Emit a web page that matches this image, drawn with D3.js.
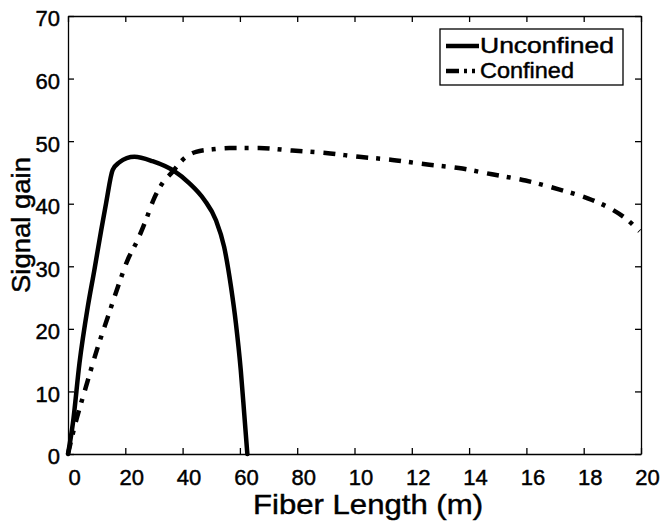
<!DOCTYPE html>
<html>
<head>
<meta charset="utf-8">
<script src="https://cdn.jsdelivr.net/npm/d3@7"></script>
<style>
  html, body { margin: 0; padding: 0; background: #fff; }
  svg { display: block; }
  text { font-family: "Liberation Sans", Arial, Helvetica, sans-serif; fill: #000; stroke: #000; stroke-width: 0.45px; }
</style>
</head>
<body>
<svg id="chart" width="669" height="521"></svg>
<script>
// ---- data ----
const unconfinedX = [0, 1.7, 4.0, 6.9, 9.2, 11.6, 13.3, 15.6, 17.9, 20.5, 23.2, 29.5, 37.1, 42.3, 47.6, 51.6, 54.5, 56.9, 58.6, 60.3, 61.5, 62.6];
const unconfinedY = [0, 4.9, 14.5, 23.5, 29.4, 35.8, 40.1, 45.4, 46.6, 47.3, 47.5, 46.8, 45.2, 43.3, 40.6, 37.4, 33.1, 26.7, 20.9, 13.4, 6.5, 0];

const confinedX = [0, 2.3, 6.3, 10.4, 13.9, 17.4, 20.8, 24.3, 27.2, 30.1, 33.0, 36.5, 40.0, 44.7, 50.5, 56.3, 66.7, 78.3, 90, 101.6, 113.2, 124.8, 136.4, 148, 159.7, 171.3, 182.9, 189.8, 194.5, 199.5];
const confinedY = [0, 4.4, 10.8, 17.1, 21.9, 26.7, 31.0, 34.2, 37.4, 40.9, 43.3, 45.1, 47.0, 48.3, 48.7, 48.9, 48.9, 48.5, 48.1, 47.5, 47.0, 46.3, 45.7, 44.7, 43.7, 42.3, 40.6, 39.1, 37.7, 35.6];

const xTickValues = [0, 20, 40, 60, 80, 100, 120, 140, 160, 180, 200];
const xTickLabels = ["0", "20", "40", "60", "80", "10", "12", "14", "16", "18", "20"];
const yTickValues = [0, 10, 20, 30, 40, 50, 60, 70];
const yTickLabels = ["0", "10", "20", "30", "40", "50", "60", "70"];

const seriesNames = ["Unconfined", "Confined"];
const xLabel = "Fiber Length (m)";
const yLabel = "Signal gain";

// ---- layout ----
const svg = d3.select("#chart");
const mLeft = 68, mRight = 641, mTop = 16, mBottom = 454;
const x = d3.scaleLinear().domain([0, 200]).range([mLeft, mRight]);
const y = d3.scaleLinear().domain([0, 70]).range([mBottom, mTop]);

const dashDot = "12,8,4,9";
const lw = 4.5;

// lines (clipped to plot area)
svg.append("clipPath").attr("id", "clip")
  .append("rect").attr("x", mLeft - 3).attr("y", mTop).attr("width", mRight - mLeft + 3).attr("height", mBottom - mTop + 3);

const line = d3.line().x(d => x(d[0])).y(d => y(d[1])).curve(d3.curveMonotoneX);

const g = svg.append("g").attr("clip-path", "url(#clip)");
g.append("path")
  .datum(unconfinedX.map((v, i) => [v, unconfinedY[i]]))
  .attr("d", line).attr("fill", "none").attr("stroke", "#000")
  .attr("stroke-width", lw).attr("stroke-linejoin", "round").attr("stroke-linecap", "round");
g.append("path")
  .datum(confinedX.map((v, i) => [v, confinedY[i]]))
  .attr("d", line).attr("fill", "none").attr("stroke", "#000")
  .attr("stroke-width", lw).attr("stroke-dasharray", dashDot);

// axes with inward ticks (MATLAB style box)
const tickLen = 6;
const axB = svg.append("g").attr("transform", `translate(0,${mBottom})`)
  .call(d3.axisBottom(x).tickValues(xTickValues).tickSizeInner(-tickLen).tickSizeOuter(0)
        .tickFormat((d, i) => xTickLabels[i]));
const axT = svg.append("g").attr("transform", `translate(0,${mTop})`)
  .call(d3.axisTop(x).tickValues(xTickValues).tickSizeInner(-tickLen).tickSizeOuter(0).tickFormat(""));
const axL = svg.append("g").attr("transform", `translate(${mLeft},0)`)
  .call(d3.axisLeft(y).tickValues(yTickValues).tickSizeInner(-tickLen).tickSizeOuter(0)
        .tickFormat((d, i) => yTickLabels[i]));
const axR = svg.append("g").attr("transform", `translate(${mRight},0)`)
  .call(d3.axisRight(y).tickValues(yTickValues).tickSizeInner(-tickLen).tickSizeOuter(0).tickFormat(""));

[axB, axT, axL, axR].forEach(a => {
  a.selectAll("path.domain").attr("stroke", "#000").attr("stroke-width", 1.3);
  a.selectAll(".tick line").attr("stroke", "#000").attr("stroke-width", 1.3);
});
axB.selectAll(".tick text")
  .attr("font-size", 22).attr("font-family", "Liberation Sans, Arial, sans-serif")
  .attr("dy", null).attr("y", 31).attr("dx", 6).attr("fill", "#000").attr("stroke", "#000");
axL.selectAll(".tick text")
  .attr("font-size", 22).attr("font-family", "Liberation Sans, Arial, sans-serif")
  .attr("x", -8).attr("dy", "0.45em").attr("fill", "#000").attr("stroke", "#000");

// axis labels
svg.append("text").attr("x", 253).attr("y", 514)
  .attr("font-size", 28).attr("textLength", 230).attr("lengthAdjust", "spacingAndGlyphs").text(xLabel);
svg.append("text").attr("transform", "translate(30,293) rotate(-90)")
  .attr("font-size", 26).attr("textLength", 136).attr("lengthAdjust", "spacingAndGlyphs").text(yLabel);

// legend
const lg = svg.append("g");
lg.append("rect").attr("x", 440).attr("y", 29).attr("width", 183).attr("height", 56)
  .attr("fill", "#fff").attr("stroke", "#000").attr("stroke-width", 1.3);
const rows = [{ name: seriesNames[0], dash: null, yy: 46 }, { name: seriesNames[1], dash: "13,5,3,5,3,6", yy: 71 }];
rows.forEach(r => {
  lg.append("line").attr("x1", 446).attr("x2", 479).attr("y1", r.yy).attr("y2", r.yy)
    .attr("stroke", "#000").attr("stroke-width", lw)
    .attr("stroke-dasharray", r.dash);
  lg.append("text").attr("x", 480).attr("y", r.yy + 7).attr("font-size", 22)
    .attr("textLength", r.name === seriesNames[0] ? 134 : 94).attr("lengthAdjust", "spacingAndGlyphs")
    .text(r.name);
});
</script>
</body>
</html>
